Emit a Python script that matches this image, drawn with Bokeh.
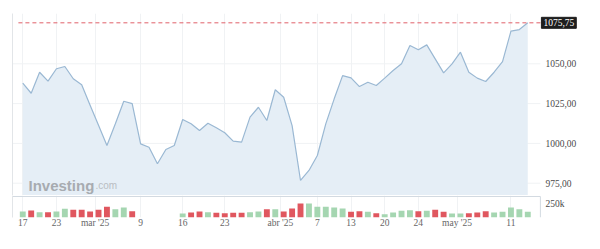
from bokeh.plotting import figure
from bokeh.layouts import column
from bokeh.models import Range1d, LinearAxis, FixedTicker, Label, ColumnDataSource
from bokeh.core.properties import value
from bokeh.embed import file_html
from bokeh.resources import INLINE

# ---- data ----
close = [1037.8, 1031.5, 1044.7, 1039.1, 1046.9, 1048.3, 1040.6, 1036.8, 1024.0, 1011.4,
         998.7, 1012.3, 1026.5, 1025.0, 999.7, 997.6, 987.2, 996.2, 998.7, 1015.0,
         1012.3, 1008.1, 1012.7, 1009.8, 1006.7, 1001.4, 1000.8, 1016.5, 1022.7, 1014.4,
         1033.7, 1029.0, 1011.2, 976.7, 983.0, 992.4, 1012.3, 1028.0, 1042.6, 1041.2,
         1035.7, 1038.4, 1036.4, 1041.0, 1045.8, 1050.0, 1061.5, 1058.8, 1061.9, 1053.1,
         1044.3, 1050.0, 1057.3, 1044.7, 1041.0, 1038.9, 1044.7, 1051.4, 1070.5, 1071.5,
         1075.75]
volume_k = [107, 125, 95, 95, 107, 155, 137, 137, 107, 137,
            191, 148, 179, 113, 0, 0, 0, 0, 0, 71,
            89, 107, 95, 84, 77, 84, 84, 95, 107, 148,
            148, 107, 161, 250, 250, 191, 191, 179, 161, 102,
            113, 102, 77, 59, 89, 120, 130, 113, 120, 137,
            102, 71, 71, 77, 89, 113, 89, 102, 179, 148,
            102]
tick_idx = [0, 4, 8.6, 14, 19, 24, 30.6, 35, 39, 43, 47, 51.6, 58]
tick_labels = ["17", "23", "mar '25", "9", "16", "23", "abr '25", "7", "13", "20", "24", "may '25", "11"]
price_ticks = [975, 1000, 1025, 1050]
price_tick_labels = ["975,00", "1000,00", "1025,00", "1050,00"]
last_price = 1075.75
last_label = "1075,75"
vol_ticks = [250000]
vol_tick_labels = ["250k"]

FONT = "Liberation Sans Narrow"
LINE = "#9ab8d3"
FILL = "#e5eef6"
GREEN = "#a5d6b1"
RED = "#e0575f"
GRID = "#f0f2f4"
BOX = "#d3dae1"

idx = list(range(len(close)))
colors = [GREEN] + [GREEN if close[i] >= close[i - 1] else RED for i in range(1, len(close))]
vol = [v * 1000 for v in volume_k]

X0, XPLOT, XEND = -1.22, 61.5, 68.64   # frame start, plot-area right edge, canvas right edge
LABX = 62.1                             # right-side label column
x_range = Range1d(X0, XEND)

# ---- price panel ----
PMIN, PMAX = 967.27, 1081.6
p = figure(width=600, height=195, x_range=x_range, y_range=Range1d(PMIN, PMAX),
           output_backend="svg", toolbar_location=None,
           min_border_left=12, min_border_right=0, min_border_top=13, min_border_bottom=0)
p.xaxis.visible = False
p.yaxis.visible = False
p.outline_line_color = None
p.ygrid.grid_line_color = None
p.xgrid.ticker = FixedTicker(ticks=tick_idx)
p.xgrid.grid_line_color = GRID

# horizontal grid lines limited to the plot area
p.segment(x0=[X0] * len(price_ticks), x1=[XPLOT] * len(price_ticks), y0=price_ticks, y1=price_ticks,
          line_color=GRID, line_width=1)

src = ColumnDataSource(dict(x=idx, y=close, base=[PMIN] * len(close)))
p.varea(x="x", y1="base", y2="y", source=src, fill_color=FILL)
p.line(x="x", y="y", source=src, line_color=LINE, line_width=1.2)

# last price dashed line
p.segment(x0=[X0 + 0.7], x1=[XPLOT], y0=[last_price], y1=[last_price],
          line_color="#e0606a", line_dash="4 3", line_width=1)

# right-hand price labels
p.text(x=[LABX] * len(price_ticks), y=price_ticks, text=price_tick_labels,
       text_font=value(FONT), text_font_size="9.5px", text_color="#4a4a4a",
       text_baseline="middle", text_align="left")

p.add_layout(Label(x=61.62, y=last_price, text=last_label, text_font=FONT,
                   text_font_size="9.5px", text_color="white", text_baseline="middle",
                   text_align="left", background_fill_color="#1e1e1e",
                   border_line_color="#1e1e1e", padding=2))

left_ax = LinearAxis(ticker=FixedTicker(ticks=[]), major_label_text_font_size="0px")
left_ax.axis_line_color = "#e2e5e8"
left_ax.major_tick_line_color = None
left_ax.minor_tick_line_color = None
p.add_layout(left_ax, "left")

# watermark
p.add_layout(Label(x=0.68, y=973.6, text="Investing", text_font="Liberation Sans",
                   text_font_style="bold", text_font_size="15px", text_color="#a7abb0",
                   text_baseline="alphabetic"))
p.add_layout(Label(x=8.64, y=973.6, text=".com", text_font="Liberation Sans",
                   text_font_size="10px", text_color="#b9bdc2", text_baseline="alphabetic"))

# ---- volume panel ----
VTOP = 392900
VLINE = 375000
v = figure(width=600, height=54, x_range=x_range, y_range=Range1d(0, VTOP),
           output_backend="svg", toolbar_location=None,
           min_border_left=12, min_border_right=0, min_border_top=0, min_border_bottom=32)
v.yaxis.visible = False
v.outline_line_color = None
v.ygrid.grid_line_color = None
v.xgrid.ticker = FixedTicker(ticks=tick_idx)
v.xgrid.grid_line_color = GRID

vsrc = ColumnDataSource(dict(x=idx, top=vol, color=colors))
v.vbar(x="x", top="top", width=0.7, source=vsrc, fill_color="color", line_color=None)

# panel box (top separator and right edge)
v.segment(x0=[X0, XPLOT], x1=[XPLOT, XPLOT], y0=[VLINE, 0], y1=[VLINE, VLINE],
          line_color=BOX, line_width=1)

v.text(x=[LABX] * len(vol_ticks), y=vol_ticks, text=vol_tick_labels,
       text_font=value(FONT), text_font_size="9.5px", text_color="#4a4a4a",
       text_baseline="middle", text_align="left")

left_ax2 = LinearAxis(ticker=FixedTicker(ticks=[]), major_label_text_font_size="0px")
left_ax2.axis_line_color = "#e2e5e8"
left_ax2.major_tick_line_color = None
left_ax2.minor_tick_line_color = None
v.add_layout(left_ax2, "left")

xax = v.xaxis[0]
xax.ticker = FixedTicker(ticks=tick_idx)
xax.major_label_overrides = {t: l for t, l in zip(tick_idx, tick_labels)}
xax.axis_line_color = None
xax.major_tick_line_color = None
xax.minor_tick_line_color = None
xax.major_tick_out = 0
xax.major_label_text_font = FONT
xax.major_label_text_font_size = "9.5px"
xax.major_label_text_color = "#666666"
xax.major_label_standoff = 0

layout = column(p, v, spacing=0)
open("out.html", "w").write(file_html(layout, INLINE))
